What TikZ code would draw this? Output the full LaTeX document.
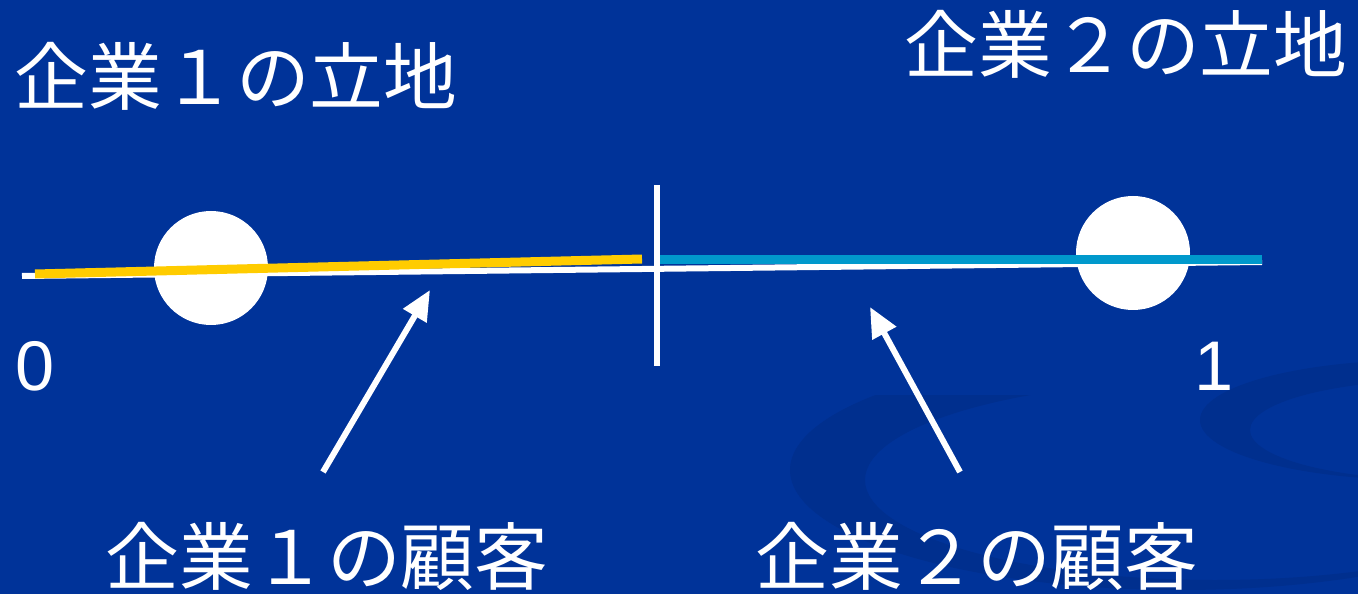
\documentclass[tikz,border=0pt]{standalone}
\usepackage{fontspec}
\setmainfont{Liberation Sans}
\newfontfamily\jp{Noto Sans CJK JP}
\usetikzlibrary{arrows.meta}
\definecolor{bg}{RGB}{0,51,153}
\definecolor{swirl}{RGB}{0,47,142}
\definecolor{ylw}{RGB}{255,204,0}
\definecolor{cyn}{RGB}{0,153,204}
\tikzset{
  lbl/.style={text=white,font=\jp\fontsize{42}{46}\selectfont,inner sep=0pt,anchor=center},
  num/.style={text=white,font=\fontsize{40}{44}\selectfont,inner sep=0pt,anchor=center},
  spot/.style={circle,fill=white,minimum size=114*0.02cm,inner sep=0pt},
  ptr/.style={white,line width=6*0.02cm,-{Triangle[length=30*0.02cm,width=26*0.02cm]}},
}
\begin{document}
\begin{tikzpicture}[x=0.02cm,y=-0.02cm]
\useasboundingbox (0,0) rectangle (1358,594);
\fill[bg] (0,0) rectangle (1358,594);
% background swirls
\begin{scope}
\clip (0,0) rectangle (1358,594);
\fill[swirl,even odd rule] (1180,470) ellipse [x radius=390, y radius=120]
  (1215,480) ellipse [x radius=350, y radius=100];
\fill[bg] (780,330) rectangle (1358,395);
\fill[swirl,even odd rule] (1420,420) ellipse [x radius=220, y radius=60]
  (1440,430) ellipse [x radius=190, y radius=50];
\end{scope}
% circles
\node[spot] (c1) at (211,268) {};
\node[spot] (c2) at (1133,253) {};
% axis
\coordinate (wl) at (22,276);
\coordinate (wr) at (1262,262);
\draw[white,line width=6*0.02cm] (wl) -- (wr);
\coordinate (yl) at (35,274);
\coordinate (yr) at (642,259);
\draw[ylw,line width=9*0.02cm] (yl) -- (yr);
\coordinate (bl) at (657,260);
\coordinate (br) at (1262,260);
\draw[cyn,line width=9*0.02cm] (bl) -- (br);
\coordinate (vt) at (657,185);
\coordinate (vb) at (657,366);
\draw[white,line width=6*0.02cm] (vt) -- (vb);
% labels
\node[num] (zero) at (35,366) {0};
\node[num] (one) at (1214,366) {1};
\node[lbl] (t1) at (236,76) {企業１の立地};
\node[lbl] (t2) at (1126,44) {企業２の立地};
\node[lbl] (k1) at (327,556) {企業１の顧客};
\node[lbl] (k2) at (977,556) {企業２の顧客};
% pointers
\coordinate (a1s) at (323,472);
\coordinate (a1e) at (430,290);
\coordinate (a2s) at (960,472);
\coordinate (a2e) at (870,307);
\draw[ptr] (a1s) -- (a1e);
\draw[ptr] (a2s) -- (a2e);
\end{tikzpicture}
\end{document}
